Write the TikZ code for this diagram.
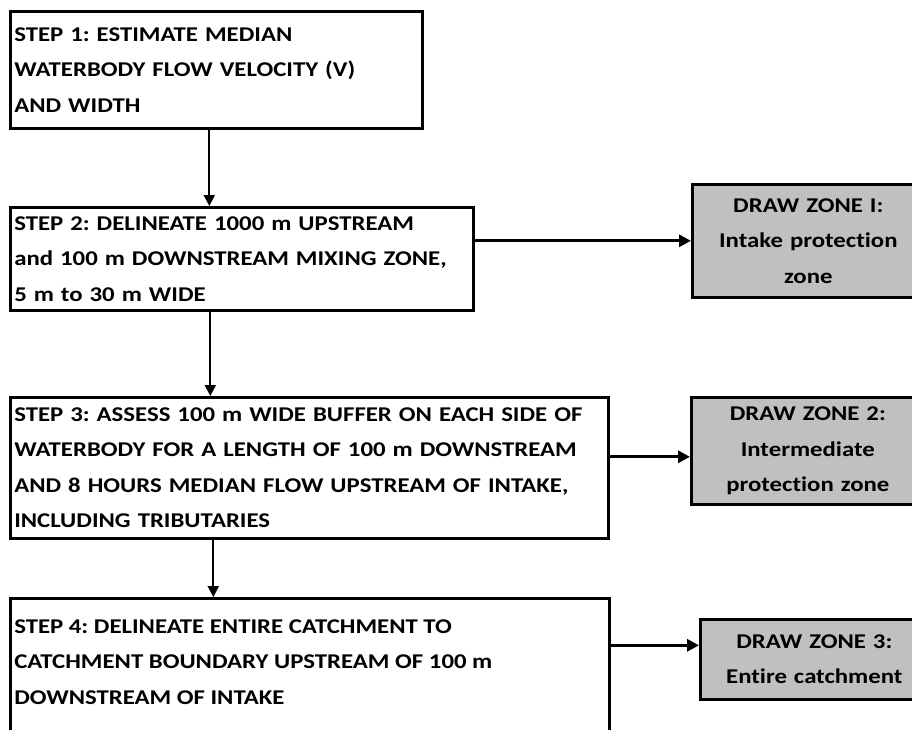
\documentclass[tikz,border=0pt]{standalone}
\usepackage{fontspec}
\setmainfont{Carlito}[FakeStretch=1.18,Ligatures=NoCommon]
\usetikzlibrary{arrows.meta}
\definecolor{zonegrey}{RGB}{192,192,192}
\frenchspacing
\begin{document}
\begin{tikzpicture}[x=1pt,y=-1pt,
  txt/.style={font=\frenchspacing\bfseries\fontsize{21}{35.5}\selectfont},
  stepbox/.style={txt, draw, line width=2.6pt, fill=white, align=left,
    inner xsep=4pt, inner ysep=0pt, anchor=north west},
  zonebox/.style={txt, draw, line width=2.6pt, fill=zonegrey, align=center,
    inner xsep=2pt, inner ysep=0pt, anchor=north west},
  arr/.style={-{Triangle[length=11pt,width=11pt]}, line width=2.2pt},
  harr/.style={-{Triangle[length=12pt,width=12pt]}, line width=3pt}]
\useasboundingbox (0,0) rectangle (912,729);

\node[stepbox, text width=404pt, minimum height=117pt] (s1) at (9,10)
  {STEP 1: ESTIMATE MEDIAN\\WATERBODY FLOW VELOCITY (V)\\AND WIDTH};
\node[stepbox, text width=455pt, minimum height=103pt] (s2) at (9,206)
  {\mbox{STEP 2: DELINEATE 1000 m UPSTREAM}\\\mbox{and 100 m DOWNSTREAM MIXING ZONE,}\\5 m to 30 m WIDE};
\node[stepbox, text width=590pt, minimum height=141pt] (s3) at (9,396)
  {\mbox{STEP 3: ASSESS 100 m WIDE BUFFER ON EACH SIDE OF}\\\mbox{WATERBODY FOR A LENGTH OF 100 m DOWNSTREAM}\\\mbox{AND 8 HOURS MEDIAN FLOW UPSTREAM OF INTAKE,}\\INCLUDING TRIBUTARIES};
\node[stepbox, inner ysep=21pt, anchor=north west] (s4) at (9,597)
  {\parbox[t][150pt][t]{591pt}{\raggedright STEP 4: DELINEATE ENTIRE CATCHMENT TO\\CATCHMENT BOUNDARY UPSTREAM OF 100 m\\DOWNSTREAM OF INTAKE}};

\node[zonebox, text width=228pt, minimum height=113pt] (z1) at (691,183)
  {DRAW ZONE I:\\Intake protection\\zone};
\node[zonebox, text width=229pt, minimum height=107pt] (z2) at (690,396)
  {DRAW ZONE 2:\\Intermediate\\protection zone};
\node[zonebox, text width=224pt, minimum height=80pt] (z3) at (699,618)
  {DRAW ZONE 3:\\Entire catchment};

\draw[arr] ([xshift=-7pt]s1.south) -- ([xshift=-7pt]s1.south |- s2.north);
\draw[arr] ([xshift=-31.5pt]s2.south) -- ([xshift=-31.5pt]s2.south |- s3.north);
\draw[arr] ([xshift=-96pt]s3.south) -- ([xshift=-96pt]s3.south |- s4.north);

\draw[harr] (s2.east |- z1.west) -- (z1.west);
\draw[harr] ([yshift=-6pt]s3.east |- z2.west) -- ([yshift=-6pt]z2.west);
\draw[harr] ([yshift=14pt]s4.east |- z3.west) -- ([yshift=14pt]z3.west);
\end{tikzpicture}
\end{document}
